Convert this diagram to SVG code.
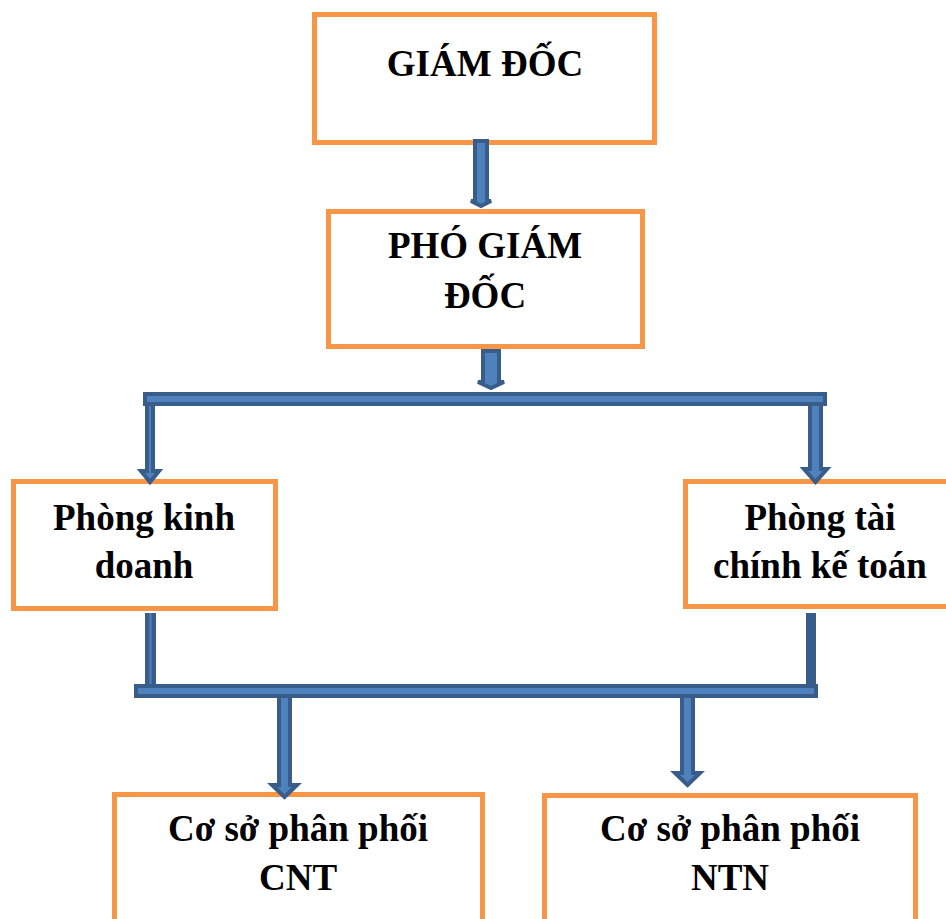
<svg xmlns="http://www.w3.org/2000/svg" width="946" height="919" viewBox="0 0 946 919">
<style>
.box{fill:#FFFFFF;stroke:#F79646;stroke-width:5}
.lbl{font-family:"Liberation Serif","Times New Roman",serif;font-weight:bold;font-size:37px;fill:#000000;text-anchor:middle}
.arr{fill:#4F81BD;stroke:#385D8A;stroke-width:4;stroke-linejoin:miter}
.line{fill:#385D8A}
.inner{fill:#4F81BD}
</style>
<rect width="946" height="919" fill="#FFFFFF"/>
<g id="giam-doc">
<rect class="box" x="314.5" y="14.5" width="340" height="128"/>
<text class="lbl" x="485" y="76">GIÁM ĐỐC</text>
</g>
<g id="pho-giam-doc">
<rect class="box" x="328.5" y="211.5" width="314" height="135"/>
<text class="lbl" x="485" y="258">PHÓ GIÁM</text>
<text class="lbl" x="485" y="308">ĐỐC</text>
</g>
<g id="phong-kinh-doanh">
<rect class="box" x="13.5" y="481.5" width="262" height="127"/>
<text class="lbl" x="144" y="530">Phòng kinh</text>
<text class="lbl" x="144" y="578">doanh</text>
</g>
<g id="phong-tai-chinh-ke-toan">
<rect class="box" x="685.5" y="481.5" width="280" height="125"/>
<text class="lbl" x="820" y="530">Phòng tài</text>
<text class="lbl" x="820" y="578">chính kế toán</text>
</g>
<g id="co-so-cnt">
<rect class="box" x="114.5" y="794.5" width="368" height="140"/>
<text class="lbl" x="298" y="841">Cơ sở phân phối</text>
<text class="lbl" x="298" y="890">CNT</text>
</g>
<g id="co-so-ntn">
<rect class="box" x="544.5" y="795.5" width="371" height="140"/>
<text class="lbl" x="730" y="841">Cơ sở phân phối</text>
<text class="lbl" x="730" y="890">NTN</text>
</g>
<g id="connectors">
<path class="arr" d="M475,141 H487 V201 H491 L481,206 L471,201 H475 Z"/>
<path class="arr" d="M483,351 H499 V382 H504 L491,388 L478,382 H483 Z"/>
<rect class="arr" x="145" y="394" width="680" height="10"/>
<path class="arr" d="M147,404 H153 V471 H159 L150,482 L141,471 H147 Z"/>
<path class="arr" d="M810,404 H821 V469 H827 L815.5,482 L804,469 H810 Z"/>
<rect class="line" x="145" y="613" width="11" height="75"/>
<rect class="inner" x="149.5" y="613" width="2" height="75"/>
<rect class="line" x="806" y="613" width="10" height="75"/>
<rect class="arr" x="136" y="686" width="680" height="10"/>
<path class="arr" d="M279,696 H290 V785 H297 L284.5,797 L272,785 H279 Z"/>
<path class="arr" d="M682,696 H693 V773 H700 L687.5,785 L675,773 H682 Z"/>
</g>
</svg>
